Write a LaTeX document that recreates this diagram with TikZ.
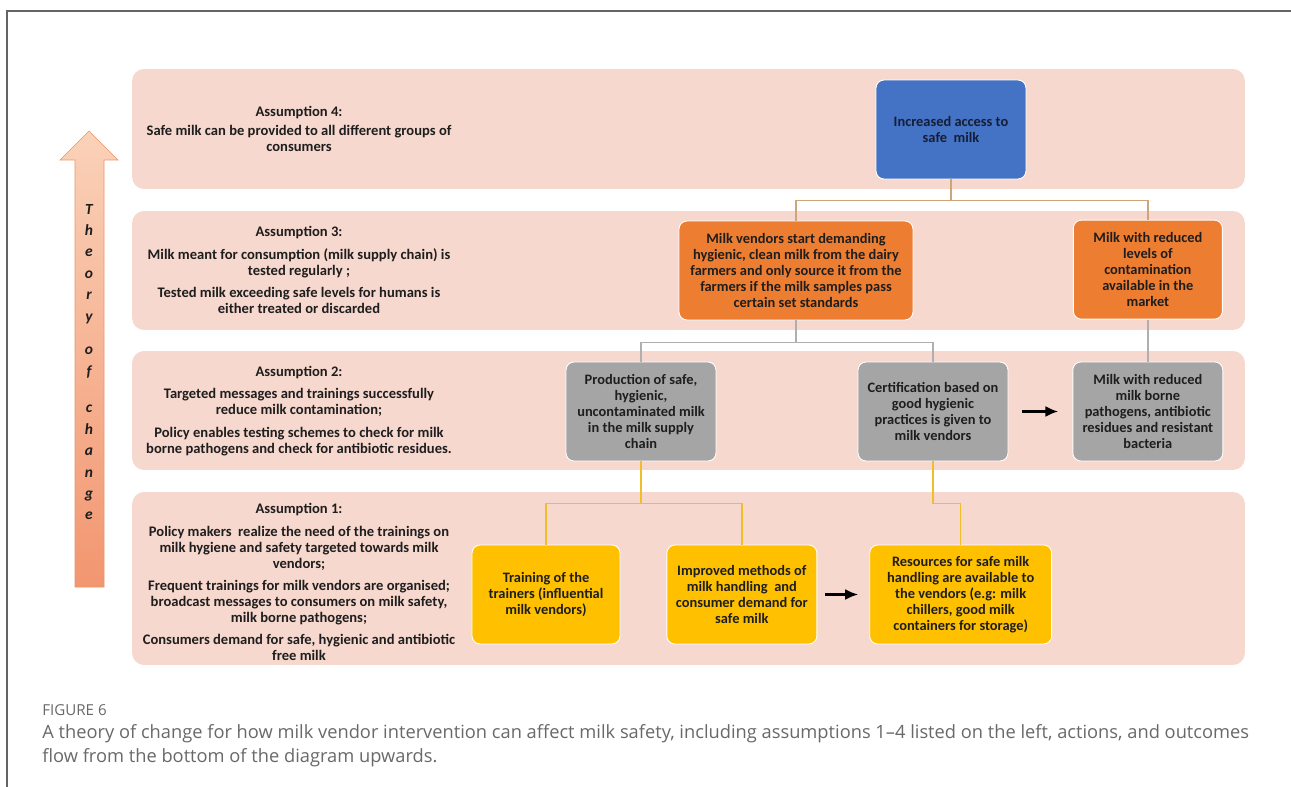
\documentclass[tikz,border=0pt]{standalone}
\usepackage{xcolor}
\usepackage{fontspec}
\setmainfont{Carlito}
\newfontfamily\capfont[Ligatures=TeX]{Open Sans}
\usepackage{tikz}
\usetikzlibrary{arrows.meta, positioning}
\definecolor{bandpink}{RGB}{247,216,206}
\definecolor{outblue}{RGB}{68,114,196}
\definecolor{outorange}{RGB}{237,125,49}
\definecolor{outgray}{RGB}{165,165,165}
\definecolor{outyellow}{RGB}{255,192,0}
\definecolor{inkdark}{RGB}{30,30,30}
\definecolor{inkblue}{RGB}{22,30,55}
\definecolor{tanline}{RGB}{205,165,120}
\definecolor{grayline}{RGB}{175,175,175}
\definecolor{goldline}{RGB}{240,190,40}
\definecolor{arrowtop}{RGB}{250,210,185}
\definecolor{arrowbot}{RGB}{242,150,112}
\definecolor{arrowedge}{RGB}{235,150,105}
\definecolor{capgray}{RGB}{105,105,105}
\definecolor{framegray}{RGB}{100,100,100}

\begin{document}
\begin{tikzpicture}[x=0.02cm, y=-0.02cm,
  band/.style={rectangle, rounded corners=0.24cm, fill=bandpink, minimum width=22.26cm, inner sep=0pt},
  assume/.style={align=center, inner sep=0pt, text=inkdark, font={\fontsize{8.3}{9.1}\selectfont\bfseries}},
  box/.style={rectangle, rounded corners=0.16cm, draw=white, line width=0.5pt, align=center, inner sep=1.5pt, minimum height=1.98cm, text=inkdark, font={\fontsize{8.2}{9.2}\selectfont\bfseries}},
  bluebox/.style={box, fill=outblue, text=inkblue, minimum width=3cm},
  orangebox/.style={box, fill=outorange},
  graybox/.style={box, fill=outgray, minimum width=3cm},
  yellowbox/.style={box, fill=outyellow},
  tanlink/.style={draw=tanline, line width=0.8pt},
  graylink/.style={draw=grayline, line width=0.8pt},
  goldlink/.style={draw=goldline, line width=0.8pt},
  arr/.style={-{Latex[length=2.6mm, width=2.2mm]}, line width=1.4pt, black}
]
\useasboundingbox (0,0) rectangle (1291,787);
\fill[white] (0,0) rectangle (1291,787);
\draw[framegray, line width=0.8pt] (7,787) -- (7,11) -- (1291,11);

\node[band, minimum height=2.4cm] (band4) at (688.5,129) {};
\node[band, minimum height=2.38cm] (band3) at (688.5,270.5) {};
\node[band, minimum height=2.38cm] (band2) at (688.5,410.5) {};
\node[band, minimum height=3.46cm] (band1) at (688.5,578.5) {};

\path[draw=arrowedge, line width=0.4pt, top color=arrowtop, bottom color=arrowbot]
  (89,131) -- (118,160) -- (104,160) -- (104,587) -- (75,587) -- (75,160) -- (60,160) -- cycle;
\node[align=center, inner sep=0pt, text=inkdark, font={\fontsize{8.8}{12.2}\selectfont\bfseries\itshape}] (toc) at (89,362)
  {T\\h\\e\\o\\r\\y\\[7pt]o\\f\\[8.5pt]c\\h\\a\\n\\g\\e};

\node[assume] (as4) at (299,129) {Assumption 4:\\[2pt]
  Safe milk can be provided to all different groups of\\ consumers};
\node[assume] (as3) at (299,270) {Assumption 3:\\[3.5pt]
  Milk meant for consumption (milk supply chain) is\\ tested regularly ;\\[3.5pt]
  Tested milk exceeding safe levels for humans is\\ either treated or discarded};
\node[assume] (as2) at (299,411) {Assumption 2:\\[3.5pt]
  Targeted messages and trainings successfully\\ reduce milk contamination;\\[3.5pt]
  Policy enables testing schemes to check for milk\\ borne pathogens and check for antibiotic residues.};
\node[assume] (as1) at (299,582) {Assumption 1:\\[3.5pt]
  Policy makers~ realize the need of the trainings on\\ milk hygiene and safety targeted towards milk\\ vendors;\\[3.5pt]
  Frequent trainings for milk vendors are organised;\\ broadcast messages to consumers on milk safety,\\ milk borne pathogens;\\[3.5pt]
  Consumers demand for safe, hygienic and antibiotic\\ free milk};

\node[bluebox] (blue) at (951,129.5) {Increased access to\\ safe~ milk};
\node[orangebox, minimum width=4.68cm] (orl) at (796,270.5) {Milk vendors start demanding\\ hygienic, clean milk from the dairy\\ farmers and only source it from the\\ farmers if the milk samples pass\\ certain set standards};
\node[graybox] (grl) at (641,411.5) {Production of safe,\\ hygienic,\\ uncontaminated milk\\ in the milk supply\\ chain};
\node[graybox] (grm) at (933,411.5) {Certification based on\\ good hygienic\\ practices is given to\\ milk vendors};
\node[graybox, right=1.28cm of grm] (grr) {Milk with reduced\\ milk borne\\ pathogens, antibiotic\\ residues and resistant\\ bacteria};
\node[orangebox, minimum width=2.98cm, above=0.84cm of grr] (orr) {Milk with reduced\\ levels of\\ contamination\\ available in the\\ market};
\node[yellowbox, minimum width=2.96cm] (trn) at (546,594.5) {Training of the\\ trainers (influential\\ milk vendors)};
\node[yellowbox, minimum width=3cm, right=0.92cm of trn] (imp) {Improved methods of\\ milk handling~ and\\ consumer demand for\\ safe milk};
\node[yellowbox, minimum width=3.64cm, right=1.04cm of imp] (res) {Resources for safe milk\\ handling are available to\\ the vendors (e.g: milk\\ chillers, good milk\\ containers for storage)};

\draw[tanlink] (blue.south) -- ++(0,21) -| (orl.north);
\draw[tanlink] (blue.south) -- ++(0,21) -| (orr.north);
\draw[graylink] (orl.south) -- ++(0,22) -| (grl.north);
\draw[graylink] (orl.south) -- ++(0,22) -| (grm.north);
\draw[graylink] (orr.south) -- (grr.north);
\draw[goldlink] (grl.south) -- ++(0,42) -| (trn.north);
\draw[goldlink] (grl.south) -- ++(0,42) -| (imp.north);
\draw[goldlink] (grm.south) -- ++(0,42) -| (res.north);
\draw[arr, shorten <=8pt, shorten >=8pt] (grm) -- (grr);
\draw[arr, shorten <=4.5pt, shorten >=6.3pt] (imp) -- (res);

\node[anchor=north west, inner sep=0pt, text=capgray, font={\capfont\fontsize{8.6}{10}\selectfont}] (fig) at (42,704) {FIGURE 6};
\node[anchor=north west, inner sep=0pt, align=left, text=capgray, font={\capfont\fontsize{10.4}{13.7}\selectfont}] (cap) at (42,724)
  {A theory of change for how milk vendor intervention can affect milk safety, including assumptions 1\textendash4 listed on the left, actions, and outcomes\\
  flow from the bottom of the diagram upwards.};
\end{tikzpicture}
\end{document}
